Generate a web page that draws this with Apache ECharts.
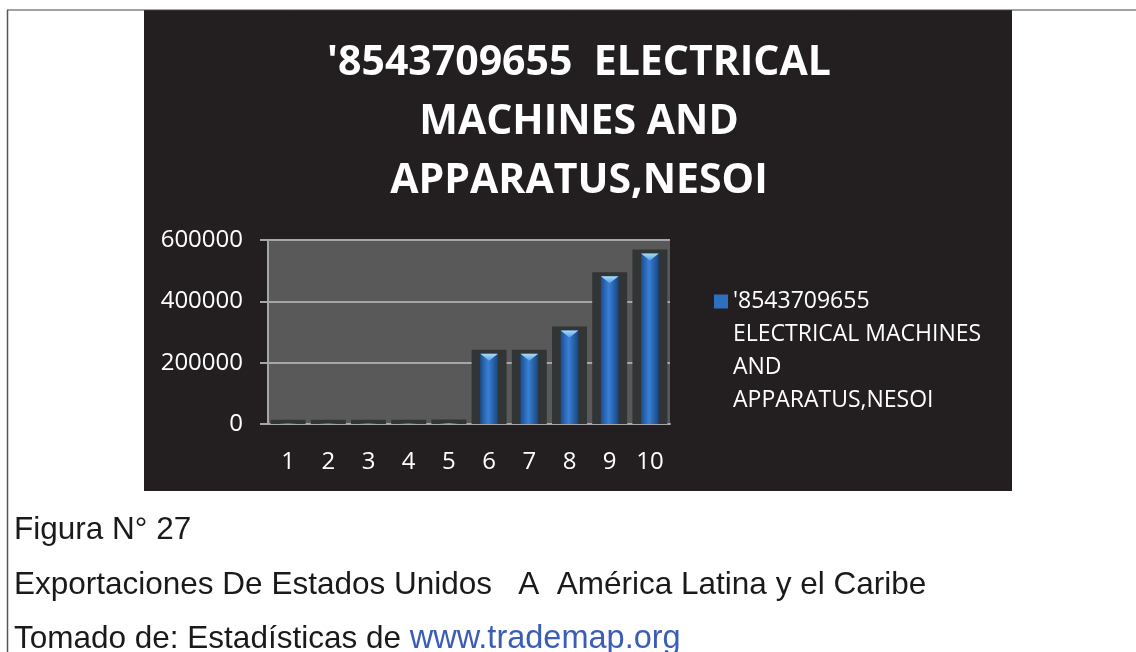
<!DOCTYPE html>
<html>
<head>
<meta charset="utf-8">
<script src="https://cdn.jsdelivr.net/npm/echarts@6/dist/echarts.min.js"></script>
<style>
  html, body { margin: 0; padding: 0; background: #fff; }
  #container { width: 1136px; height: 652px; }
</style>
</head>
<body>
<div id="container"></div>
<script>
// data
var categories = ['1', '2', '3', '4', '5', '6', '7', '8', '9', '10'];
var exportValues = [1200, 900, 1100, 1000, 1300, 229000, 229000, 305000, 482000, 556000];
var yTicks = [0, 200000, 400000, 600000];
var seriesName = "'8543709655  ELECTRICAL MACHINES AND APPARATUS,NESOI";
var legendLines = ["'8543709655", 'ELECTRICAL MACHINES', 'AND', 'APPARATUS,NESOI'];
var titleLines = ["'8543709655  ELECTRICAL", 'MACHINES AND', 'APPARATUS,NESOI'];

var barFill = new echarts.graphic.LinearGradient(0, 0, 1, 0, [
    {offset: 0, color: '#1a4d92'},
    {offset: 0.45, color: '#3a80d6'},
    {offset: 1, color: '#17467f'}
]);
var capFill = new echarts.graphic.LinearGradient(0, 0, 0, 1, [
    {offset: 0, color: '#a8dcf8'},
    {offset: 1, color: '#5b9fe3'}
]);

// bar with dark back box and bevel cap, like the office 3d bars
function renderBar(params, api) {
    var top = api.coord([api.value(0), api.value(1)]);
    var base = api.coord([api.value(0), 0]);
    var band = api.size([1, 0])[0];
    var sw = band * 0.87, bw = band * 0.44;
    var cx = top[0];
    var h = base[1] - top[1];
    var capH = Math.min(7, h);
    return {
        type: 'group',
        children: [
            {type: 'rect', shape: {x: cx - sw / 2, y: top[1] - 4, width: sw, height: h + 4}, style: {fill: '#323535'}},
            {type: 'rect', shape: {x: cx - bw / 2, y: top[1], width: bw, height: h}, style: {fill: barFill}},
            {type: 'polygon', shape: {points: [[cx - bw / 2, top[1]], [cx + bw / 2, top[1]], [cx, top[1] + capH]]}, style: {fill: capFill}}
        ]
    };
}

var myChart = echarts.init(document.getElementById('container'));
var axisGray = '#a6a6a6';
var captionStyle = {color: '#1a1a1a', fontFamily: 'Liberation Sans', fontWeight: 'normal', fontSize: 31.5, lineHeight: 32};
var option = {
    animation: false,
    backgroundColor: '#fff',
    graphic: [
        {type: 'rect', z: -10, shape: {x: 144, y: 10, width: 868, height: 481}, style: {fill: '#231f20'}},
        {type: 'line', z: -5, shape: {x1: 7, y1: 10, x2: 1136, y2: 10}, style: {stroke: '#444', lineWidth: 1}},
        {type: 'line', z: -5, shape: {x1: 7.5, y1: 10, x2: 7.5, y2: 652}, style: {stroke: '#555', lineWidth: 1.5}}
    ],
    title: [
        {
            text: titleLines.join('\n'),
            left: 579, top: 34, padding: 0, textAlign: 'center',
            textStyle: {color: '#fff', fontFamily: 'Open Sans', fontWeight: 'bold', fontSize: 41, lineHeight: 59}
        },
        {text: 'Figura N° 27', left: 14, top: 514, padding: 0, textStyle: captionStyle},
        {text: 'Exportaciones De Estados Unidos   A  América Latina y el Caribe', left: 14, top: 569, padding: 0, textStyle: captionStyle},
        {
            text: 'Tomado de: Estadísticas de {l|www.trademap.org}',
            left: 14, top: 623, padding: 0,
            textStyle: Object.assign({}, captionStyle, {
                rich: {l: {color: '#3a5db8', fontFamily: 'Liberation Sans', fontSize: 32.5, lineHeight: 32}}
            })
        }
    ],
    legend: {
        left: 714, top: 186, padding: 0,
        orient: 'vertical', icon: 'rect', itemWidth: 14, itemHeight: 14,
        selectedMode: false,
        data: [{name: seriesName, itemStyle: {color: '#2f6fc0'}}],
        // blank lines in front keep the icon level with the first line
        formatter: function () { return '\n\n\n' + legendLines.join('\n'); },
        textStyle: {color: '#fff', fontFamily: 'Open Sans', fontSize: 23, lineHeight: 33}
    },
    grid: {left: 268, right: 466, top: 240, bottom: 228, show: true, backgroundColor: '#595959', borderWidth: 0},
    xAxis: {
        type: 'category',
        data: categories,
        axisLine: {lineStyle: {color: axisGray, width: 2}},
        axisTick: {length: 8, lineStyle: {color: axisGray, width: 2}},
        axisLabel: {color: '#fff', fontFamily: 'Open Sans', fontSize: 24, margin: 26}
    },
    yAxis: {
        type: 'value',
        min: yTicks[0], max: yTicks[yTicks.length - 1], interval: yTicks[1] - yTicks[0],
        axisLine: {show: true, lineStyle: {color: axisGray, width: 2}},
        axisTick: {show: true, length: 8, lineStyle: {color: axisGray, width: 2}},
        splitLine: {lineStyle: {color: axisGray, width: 2}},
        axisLabel: {color: '#fff', fontFamily: 'Open Sans', fontSize: 24, margin: 25, formatter: function (v) { return String(v); }}
    },
    series: [{
        name: seriesName,
        type: 'custom',
        renderItem: renderBar,
        itemStyle: {color: '#2f6fc0'},
        encode: {x: 0, y: 1},
        data: exportValues.map(function (v, i) { return [i, v]; })
    }]
};
myChart.setOption(option);
</script>
</body>
</html>
